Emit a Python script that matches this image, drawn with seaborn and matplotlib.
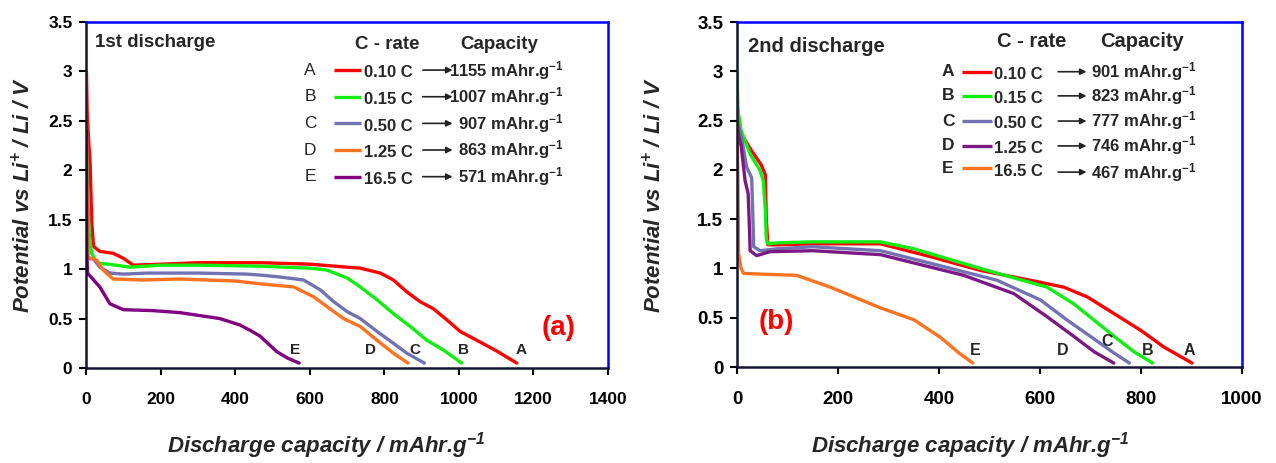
import numpy as np
import pandas as pd
import matplotlib
matplotlib.use('Agg')
import matplotlib.pyplot as plt
import seaborn as sns

sns.set_theme(style='white')
plt.rcParams['font.family'] = ['Liberation Sans', 'DejaVu Sans']
plt.rcParams['mathtext.default'] = 'regular'

#%% data
letters = ['A', 'B', 'C', 'D', 'E']
rates = ['0.10 C', '0.15 C', '0.50 C', '1.25 C', '16.5 C']

# 1st discharge
caps_1 = [1155, 1007, 907, 863, 571]
colors_1 = ['#ff0000', '#11ee11', '#7272b2', '#ff7220', '#800080']

a1_x = [0, 2, 6, 10, 14, 19, 36, 72, 99, 126, 200, 300, 467, 600, 700, 735, 789, 824, 860, 896, 931, 968, 1003, 1048, 1102, 1155]
a1_y = [3.0, 2.6, 2.3, 2.07, 1.5, 1.23, 1.18, 1.16, 1.11, 1.04, 1.05, 1.065, 1.065, 1.05, 1.02, 1.01, 0.96, 0.89, 0.77, 0.67, 0.60, 0.485, 0.37, 0.28, 0.17, 0.05]
b1_x = [0, 2, 5, 8, 14, 28, 60, 117, 200, 300, 467, 600, 646, 700, 735, 780, 824, 869, 914, 959, 1007]
b1_y = [2.3, 2.0, 1.6, 1.33, 1.16, 1.06, 1.05, 1.02, 1.04, 1.04, 1.03, 1.01, 0.99, 0.91, 0.82, 0.69, 0.55, 0.42, 0.28, 0.18, 0.05]
c1_x = [0, 1, 3, 20, 36, 63, 100, 162, 300, 430, 467, 520, 583, 628, 664, 700, 735, 780, 824, 860, 907]
c1_y = [2.4, 1.5, 1.11, 1.10, 1.02, 0.96, 0.95, 0.96, 0.96, 0.95, 0.94, 0.92, 0.89, 0.79, 0.67, 0.57, 0.50, 0.37, 0.25, 0.15, 0.05]
d1_x = [0, 1, 3, 5, 28, 45, 72, 150, 251, 400, 470, 556, 610, 646, 690, 735, 780, 824, 863]
d1_y = [3.0, 2.0, 1.3, 1.12, 1.09, 0.99, 0.90, 0.89, 0.90, 0.88, 0.85, 0.82, 0.72, 0.62, 0.50, 0.42, 0.28, 0.15, 0.05]
e1_x = [0, 1, 3, 36, 63, 99, 180, 251, 358, 412, 440, 467, 511, 540, 571]
e1_y = [2.4, 1.2, 0.96, 0.82, 0.65, 0.59, 0.58, 0.56, 0.50, 0.435, 0.38, 0.32, 0.165, 0.10, 0.05]

# 2nd discharge
caps_2 = [901, 823, 777, 746, 467]
colors_2 = ['#ff0000', '#11ee11', '#7272b2', '#7a1a82', '#ff7220']

a2_x = [0, 2, 8, 28, 48, 56, 58, 61, 80, 150, 250, 284, 383, 482, 581, 647, 694, 747, 800, 846, 901]
a2_y = [2.7, 2.55, 2.37, 2.2, 2.05, 1.95, 1.5, 1.24, 1.24, 1.25, 1.25, 1.25, 1.12, 0.98, 0.88, 0.81, 0.71, 0.54, 0.37, 0.2, 0.04]
b2_x = [0, 2, 8, 26, 46, 52, 56, 58, 61, 80, 150, 284, 350, 482, 614, 667, 707, 747, 786, 823]
b2_y = [3.0, 2.6, 2.4, 2.16, 1.99, 1.89, 1.6, 1.3, 1.25, 1.26, 1.27, 1.27, 1.2, 1.0, 0.81, 0.64, 0.475, 0.31, 0.155, 0.04]
c2_x = [0, 3, 10, 19, 29, 31, 33, 46, 80, 150, 284, 416, 515, 601, 654, 700, 747, 777]
c2_y = [2.6, 2.45, 2.3, 2.03, 1.92, 1.6, 1.22, 1.18, 1.20, 1.22, 1.18, 1.01, 0.88, 0.68, 0.475, 0.31, 0.14, 0.04]
d2_x = [0, 3, 8, 16, 22, 24, 26, 39, 65, 150, 284, 449, 548, 614, 667, 707, 746]
d2_y = [2.5, 2.35, 2.25, 1.89, 1.76, 1.5, 1.18, 1.13, 1.17, 1.18, 1.14, 0.93, 0.745, 0.51, 0.31, 0.155, 0.04]
e2_x = [0, 1, 2, 3, 8, 13, 60, 118, 185, 284, 350, 403, 440, 467]
e2_y = [2.6, 2.2, 1.82, 1.15, 1.0, 0.95, 0.94, 0.93, 0.81, 0.6, 0.48, 0.3, 0.14, 0.04]

y_ticks = [0, 0.5, 1, 1.5, 2, 2.5, 3, 3.5]
y_tick_labels = ['0', '0.5', '1', '1.5', '2', '2.5', '3', '3.5']
x_ticks_1 = [0, 200, 400, 600, 800, 1000, 1200, 1400]
x_ticks_2 = [0, 200, 400, 600, 800, 1000]

# where the A-E tags sit near the curve ends (data x)
tag_x_1 = [1167, 1013, 882, 762, 560]
tag_y_1 = [0.18, 0.18, 0.18, 0.18, 0.18]
tag_x_2 = [895, 813, 733, 644, 472]
tag_y_2 = [0.17, 0.17, 0.26, 0.17, 0.17]


def long_frame(xs, ys):
    parts = []
    for letter, x, y in zip(letters, xs, ys):
        parts.append(pd.DataFrame({'capacity': x, 'potential': y, 'curve': letter}))
    return pd.concat(parts, ignore_index=True)


df1 = long_frame([a1_x, b1_x, c1_x, d1_x, e1_x], [a1_y, b1_y, c1_y, d1_y, e1_y])
df2 = long_frame([a2_x, b2_x, c2_x, d2_x, e2_x], [a2_y, b2_y, c2_y, d2_y, e2_y])


def style_axes(ax, xmax, xticks, tick_size):
    ax.set_xlim(0, xmax)
    ax.set_ylim(0, 3.5)
    ax.set_xticks(xticks)
    ax.set_xticklabels([str(t) for t in xticks])
    ax.set_yticks(y_ticks)
    ax.set_yticklabels(y_tick_labels)
    ax.tick_params(bottom=True, left=True, direction='out', length=5, width=1.5,
                   colors='black', labelsize=tick_size)
    ax.tick_params(axis='x', pad=12)
    ax.tick_params(axis='y', pad=5)
    for lab in ax.get_xticklabels() + ax.get_yticklabels():
        lab.set_fontweight('bold')
    for side in ['left', 'bottom']:
        ax.spines[side].set_color('#141430')
        ax.spines[side].set_linewidth(1.8)
    for side in ['top', 'right']:
        ax.spines[side].set_color('#0000ff')
        ax.spines[side].set_linewidth(1.8)
    ax.set_xlabel('Discharge capacity / mAhr.g$^{-1}$', fontsize=16,
                  fontweight='bold', style='italic')
    ax.set_ylabel('Potential vs Li$^{+}$ / Li / V', fontsize=16,
                  fontweight='bold', style='italic')


def table(ax, caps, colors, lay):
    tr = ax.transAxes
    ax.text(lay['hdr_rate'], lay['hdr_y'], 'C - rate', transform=tr, ha='center',
            va='center', fontsize=lay['hdr_size'], fontweight='bold')
    ax.text(lay['hdr_cap'], lay['hdr_y'], 'Capacity', transform=tr, ha='center',
            va='center', fontsize=lay['hdr_size'], fontweight='bold')
    for i, (letter, rate, cap, col) in enumerate(zip(letters, rates, caps, colors)):
        y = lay['rows'][i]
        ax.text(lay['letter_x'], y, letter, transform=tr, ha='center', va='center',
                fontsize=12.5, fontweight=lay['letter_weight'])
        ax.plot(lay['line_x'], [y, y], transform=tr, color=col, lw=2.4,
                solid_capstyle='butt')
        ax.text(lay['rate_x'], y - 0.008, rate, transform=tr, ha='left', va='center',
                fontsize=12, fontweight='bold')
        ya = lay['cap_rows'][i]
        ax.annotate('', xy=(lay['arrow_x'][1], ya), xytext=(lay['arrow_x'][0], ya),
                    xycoords=tr, textcoords=tr,
                    arrowprops=dict(arrowstyle='-|>', color='#222222', lw=1.2,
                                    mutation_scale=9, shrinkA=0, shrinkB=0))
        ax.text(lay['cap_x'], ya, f'{cap} mAhr.g$^{{-1}}$', transform=tr,
                ha=lay['cap_ha'], va='center', fontsize=12, fontweight='bold')


fig = plt.figure(figsize=(12.76, 4.63), dpi=100)
ax1 = fig.add_axes([0.0677, 0.2052, 0.4088, 0.7473])
ax2 = fig.add_axes([0.5776, 0.2073, 0.3958, 0.7451])

sns.lineplot(data=df1, x='capacity', y='potential', hue='curve', palette=colors_1,
             sort=False, estimator=None, lw=2.4, legend=False, ax=ax1)
sns.lineplot(data=df2, x='capacity', y='potential', hue='curve', palette=colors_2,
             sort=False, estimator=None, lw=2.4, legend=False, ax=ax2)

style_axes(ax1, 1400, x_ticks_1, 12.5)
style_axes(ax2, 1000, x_ticks_2, 13.5)
ax1.yaxis.set_label_coords(-0.0985, 0.5)
ax1.xaxis.set_label_coords(0.459, -0.179)
ax2.yaxis.set_label_coords(-0.141, 0.5)
ax2.xaxis.set_label_coords(0.461, -0.183)

# curve tags
for lx, ly, t in zip(tag_x_1, tag_y_1, letters):
    ax1.text(lx, ly, t, ha='center', va='center', fontsize=11, fontweight='bold')
for lx, ly, t in zip(tag_x_2, tag_y_2, letters):
    ax2.text(lx, ly, t, ha='center', va='center', fontsize=11.5, fontweight='bold')

ax1.text(0.0165, 0.94, '1st discharge', transform=ax1.transAxes, ha='left',
         va='center', fontsize=13.5, fontweight='bold')
ax2.text(0.022, 0.928, '2nd discharge', transform=ax2.transAxes, ha='left',
         va='center', fontsize=14.5, fontweight='bold')
ax1.text(0.906, 0.116, '(a)', transform=ax1.transAxes, ha='center', va='center',
         fontsize=20, fontweight='bold', color='#ff0000')
ax2.text(0.077, 0.131, '(b)', transform=ax2.transAxes, ha='center', va='center',
         fontsize=20, fontweight='bold', color='#ff0000')

table(ax1, caps_1, colors_1, dict(
    hdr_rate=0.576, hdr_cap=0.792, hdr_y=0.934, hdr_size=13.5,
    letter_x=0.429, letter_weight='normal',
    rows=[0.861, 0.784, 0.707, 0.630, 0.553],
    cap_rows=[0.861, 0.784, 0.707, 0.630, 0.553],
    line_x=[0.474, 0.527], rate_x=0.532,
    arrow_x=[0.645, 0.702], cap_x=0.915, cap_ha='right'))
table(ax2, caps_2, colors_2, dict(
    hdr_rate=0.583, hdr_cap=0.801, hdr_y=0.943, hdr_size=14.5,
    letter_x=0.418, letter_weight='bold',
    rows=[0.856, 0.786, 0.713, 0.641, 0.576],
    cap_rows=[0.856, 0.786, 0.713, 0.641, 0.565],
    line_x=[0.445, 0.504], rate_x=0.509,
    arrow_x=[0.636, 0.692], cap_x=0.700, cap_ha='left'))

fig.savefig('out.png', dpi=100)
